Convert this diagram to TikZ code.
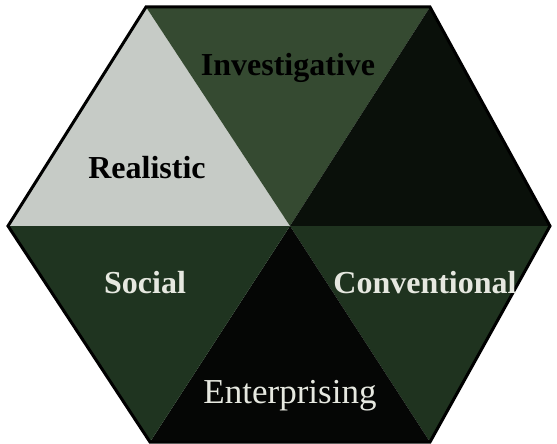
\documentclass[tikz,border=0pt]{standalone}
\usepackage{fontspec}
\setmainfont{Liberation Serif}
\usetikzlibrary{positioning}
\definecolor{realgray}{HTML}{C6CBC6}
\definecolor{invgreen}{HTML}{354A31}
\definecolor{topblack}{HTML}{0A100A}
\definecolor{socgreen}{HTML}{1F3420}
\definecolor{entblack}{HTML}{050605}
\definecolor{congreen}{HTML}{1F331F}
\definecolor{paletext}{HTML}{E6E8E0}

\begin{document}
\begin{tikzpicture}[
    x=1pt, y=-1pt,
    dark/.style ={
        font=\fontsize{32}{36}\selectfont\bfseries,
        text=black
    },
    pale/.style ={
        font=\fontsize{32}{36}\selectfont\bfseries,
        text=paletext
    }
    ]
    \useasboundingbox (0,0) rectangle (557,444);

    \coordinate (c) at (290,226);
    \coordinate (tl) at (146,7);
    \coordinate (tr) at (430,7);
    \coordinate (r) at (550,226);
    \coordinate (br) at (430,442);
    \coordinate (bl) at (150,442);
    \coordinate (l) at (8,226);

    \foreach \a/ \b/ \col in {l/tl/realgray, tl/tr/invgreen, tr/r/topblack, r/br/congreen, br/bl/entblack, bl/l/socgreen}
        \fill[\col] (c) -- (\a) -- (\b) -- cycle;
    \draw[line width=3pt] (tl) -- (tr) -- (r) -- (br) -- (bl) -- (l) -- cycle;

    \node[dark] (inv) at (288,68) {Investigative};
    \node[dark] (real) at (147,168) {Realistic};
    \node[pale] (soc) at (145,283) {Social};
    \node[pale] (conv) at (425,283) {Conventional};
    \node[pale, font=\fontsize{35}{40}\selectfont] (ent) at (290,396) {Enterprising};
\end{tikzpicture}
\end{document}
